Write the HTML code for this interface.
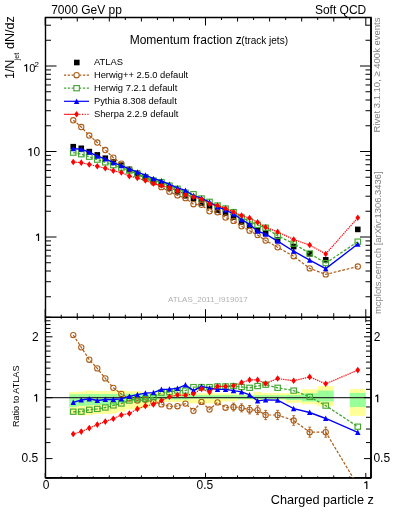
<!DOCTYPE html>
<html><head><meta charset="utf-8"><style>html,body{margin:0;padding:0;background:#fff;width:393px;height:512px;overflow:hidden}svg{display:block;will-change:transform}</style></head>
<body><svg width="393" height="512" viewBox="0 0 393 512">
<rect width="393" height="512" fill="#fff"/>
<rect x="69.25" y="391.90" width="8.02" height="22.50" fill="#ffff99"/>
<rect x="77.26" y="391.50" width="8.02" height="24.00" fill="#ffff99"/>
<rect x="85.28" y="390.50" width="8.02" height="24.50" fill="#ffff99"/>
<rect x="93.29" y="391.00" width="8.01" height="23.00" fill="#ffff99"/>
<rect x="101.31" y="391.00" width="8.02" height="23.00" fill="#ffff99"/>
<rect x="109.32" y="391.00" width="8.02" height="22.50" fill="#ffff99"/>
<rect x="117.34" y="390.30" width="8.02" height="21.30" fill="#ffff99"/>
<rect x="125.35" y="391.00" width="8.02" height="18.30" fill="#ffff99"/>
<rect x="133.37" y="391.00" width="8.02" height="18.30" fill="#ffff99"/>
<rect x="141.38" y="392.20" width="8.02" height="15.80" fill="#ffff99"/>
<rect x="149.40" y="392.50" width="8.02" height="11.50" fill="#ffff99"/>
<rect x="157.41" y="393.00" width="8.01" height="9.00" fill="#ffff99"/>
<rect x="165.43" y="393.00" width="8.02" height="9.00" fill="#ffff99"/>
<rect x="173.44" y="393.00" width="8.02" height="9.00" fill="#ffff99"/>
<rect x="181.46" y="393.00" width="8.01" height="9.00" fill="#ffff99"/>
<rect x="189.47" y="393.20" width="8.01" height="10.20" fill="#ffff99"/>
<rect x="197.49" y="393.20" width="8.01" height="10.20" fill="#ffff99"/>
<rect x="205.50" y="393.20" width="8.02" height="10.20" fill="#ffff99"/>
<rect x="213.52" y="393.20" width="8.01" height="10.20" fill="#ffff99"/>
<rect x="221.53" y="393.50" width="8.01" height="7.90" fill="#ffff99"/>
<rect x="229.55" y="393.50" width="8.01" height="7.90" fill="#ffff99"/>
<rect x="237.56" y="394.50" width="8.01" height="5.30" fill="#ffff99"/>
<rect x="245.57" y="394.50" width="8.02" height="5.30" fill="#ffff99"/>
<rect x="253.59" y="391.90" width="8.01" height="9.50" fill="#ffff99"/>
<rect x="261.61" y="393.00" width="8.02" height="6.80" fill="#ffff99"/>
<rect x="269.62" y="393.00" width="16.03" height="6.80" fill="#ffff99"/>
<rect x="285.65" y="393.00" width="16.03" height="9.90" fill="#ffff99"/>
<rect x="301.68" y="389.20" width="16.03" height="15.10" fill="#ffff99"/>
<rect x="317.71" y="386.00" width="16.03" height="20.20" fill="#ffff99"/>
<rect x="349.77" y="389.00" width="16.03" height="26.90" fill="#ffff99"/>
<rect x="69.25" y="394.30" width="8.02" height="12.80" fill="#99ff99"/>
<rect x="77.26" y="394.30" width="8.02" height="11.70" fill="#99ff99"/>
<rect x="85.28" y="394.00" width="8.02" height="11.50" fill="#99ff99"/>
<rect x="93.29" y="394.00" width="8.01" height="11.00" fill="#99ff99"/>
<rect x="101.31" y="394.00" width="8.02" height="11.00" fill="#99ff99"/>
<rect x="109.32" y="394.00" width="8.02" height="11.00" fill="#99ff99"/>
<rect x="117.34" y="393.70" width="8.02" height="9.30" fill="#99ff99"/>
<rect x="125.35" y="393.70" width="8.02" height="7.30" fill="#99ff99"/>
<rect x="133.37" y="393.70" width="8.02" height="7.30" fill="#99ff99"/>
<rect x="141.38" y="394.20" width="8.02" height="6.80" fill="#99ff99"/>
<rect x="149.40" y="394.50" width="8.02" height="5.50" fill="#99ff99"/>
<rect x="157.41" y="395.00" width="8.01" height="4.50" fill="#99ff99"/>
<rect x="165.43" y="395.00" width="8.02" height="4.50" fill="#99ff99"/>
<rect x="173.44" y="395.00" width="8.02" height="4.50" fill="#99ff99"/>
<rect x="181.46" y="395.00" width="8.01" height="4.50" fill="#99ff99"/>
<rect x="189.47" y="395.10" width="8.01" height="3.40" fill="#99ff99"/>
<rect x="197.49" y="395.10" width="8.01" height="3.40" fill="#99ff99"/>
<rect x="205.50" y="395.10" width="8.02" height="3.40" fill="#99ff99"/>
<rect x="213.52" y="395.10" width="8.01" height="3.40" fill="#99ff99"/>
<rect x="221.53" y="395.10" width="8.01" height="3.40" fill="#99ff99"/>
<rect x="229.55" y="395.10" width="8.01" height="3.40" fill="#99ff99"/>
<rect x="237.56" y="395.30" width="8.01" height="3.80" fill="#99ff99"/>
<rect x="245.57" y="395.30" width="8.02" height="3.80" fill="#99ff99"/>
<rect x="253.59" y="395.30" width="8.01" height="3.80" fill="#99ff99"/>
<rect x="261.61" y="395.30" width="8.02" height="3.80" fill="#99ff99"/>
<rect x="269.62" y="395.30" width="16.03" height="3.80" fill="#99ff99"/>
<rect x="285.65" y="395.00" width="16.03" height="5.00" fill="#99ff99"/>
<rect x="301.68" y="393.30" width="16.03" height="8.20" fill="#99ff99"/>
<rect x="317.71" y="390.60" width="16.03" height="10.90" fill="#99ff99"/>
<rect x="349.77" y="392.90" width="16.03" height="14.10" fill="#99ff99"/>
<line x1="45.5" y1="397.7" x2="371.0" y2="397.7" stroke="#303030" stroke-width="1.3"/>
<path d="M45.5 17.5H371.0V477.9H45.5Z" fill="none" stroke="#000" stroke-width="1.4"/>
<line x1="371.0" y1="17.5" x2="371.0" y2="477.9" stroke="#000" stroke-width="1.7"/>
<line x1="45.5" y1="477.9" x2="371.0" y2="477.9" stroke="#000" stroke-width="1.8"/>
<line x1="45.5" y1="317.2" x2="371.0" y2="317.2" stroke="#000" stroke-width="1.4"/>
<path d="M45.20 17.5v8M45.20 317.2v-8M45.20 317.2v5M45.20 477.9v-5M61.23 17.5v2.5M61.23 317.2v-2.5M61.23 317.2v1.5M61.23 477.9v-1.5M77.26 17.5v4M77.26 317.2v-4M77.26 317.2v2.5M77.26 477.9v-2.5M93.29 17.5v2.5M93.29 317.2v-2.5M93.29 317.2v1.5M93.29 477.9v-1.5M109.32 17.5v4M109.32 317.2v-4M109.32 317.2v2.5M109.32 477.9v-2.5M125.35 17.5v2.5M125.35 317.2v-2.5M125.35 317.2v1.5M125.35 477.9v-1.5M141.38 17.5v4M141.38 317.2v-4M141.38 317.2v2.5M141.38 477.9v-2.5M157.41 17.5v2.5M157.41 317.2v-2.5M157.41 317.2v1.5M157.41 477.9v-1.5M173.44 17.5v4M173.44 317.2v-4M173.44 317.2v2.5M173.44 477.9v-2.5M189.47 17.5v2.5M189.47 317.2v-2.5M189.47 317.2v1.5M189.47 477.9v-1.5M205.50 17.5v8M205.50 317.2v-8M205.50 317.2v5M205.50 477.9v-5M221.53 17.5v2.5M221.53 317.2v-2.5M221.53 317.2v1.5M221.53 477.9v-1.5M237.56 17.5v4M237.56 317.2v-4M237.56 317.2v2.5M237.56 477.9v-2.5M253.59 17.5v2.5M253.59 317.2v-2.5M253.59 317.2v1.5M253.59 477.9v-1.5M269.62 17.5v4M269.62 317.2v-4M269.62 317.2v2.5M269.62 477.9v-2.5M285.65 17.5v2.5M285.65 317.2v-2.5M285.65 317.2v1.5M285.65 477.9v-1.5M301.68 17.5v4M301.68 317.2v-4M301.68 317.2v2.5M301.68 477.9v-2.5M317.71 17.5v2.5M317.71 317.2v-2.5M317.71 317.2v1.5M317.71 477.9v-1.5M333.74 17.5v4M333.74 317.2v-4M333.74 317.2v2.5M333.74 477.9v-2.5M349.77 17.5v2.5M349.77 317.2v-2.5M349.77 317.2v1.5M349.77 477.9v-1.5M365.80 17.5v8M365.80 317.2v-8M365.80 317.2v5M365.80 477.9v-5M45.5 296.76h5.5M371.0 296.76h-5.5M45.5 281.71h5.5M371.0 281.71h-5.5M45.5 271.02h5.5M371.0 271.02h-5.5M45.5 262.74h5.5M371.0 262.74h-5.5M45.5 255.97h5.5M371.0 255.97h-5.5M45.5 250.24h5.5M371.0 250.24h-5.5M45.5 245.29h5.5M371.0 245.29h-5.5M45.5 240.91h5.5M371.0 240.91h-5.5M45.5 237.00h11M371.0 237.00h-11M45.5 211.26h5.5M371.0 211.26h-5.5M45.5 196.21h5.5M371.0 196.21h-5.5M45.5 185.52h5.5M371.0 185.52h-5.5M45.5 177.24h5.5M371.0 177.24h-5.5M45.5 170.47h5.5M371.0 170.47h-5.5M45.5 164.74h5.5M371.0 164.74h-5.5M45.5 159.79h5.5M371.0 159.79h-5.5M45.5 155.41h5.5M371.0 155.41h-5.5M45.5 151.50h11M371.0 151.50h-11M45.5 125.76h5.5M371.0 125.76h-5.5M45.5 110.71h5.5M371.0 110.71h-5.5M45.5 100.02h5.5M371.0 100.02h-5.5M45.5 91.74h5.5M371.0 91.74h-5.5M45.5 84.97h5.5M371.0 84.97h-5.5M45.5 79.24h5.5M371.0 79.24h-5.5M45.5 74.29h5.5M371.0 74.29h-5.5M45.5 69.91h5.5M371.0 69.91h-5.5M45.5 66.00h11M371.0 66.00h-11M45.5 40.26h5.5M371.0 40.26h-5.5M45.5 25.21h5.5M371.0 25.21h-5.5M45.5 478.20h5M371.0 478.20h-5M45.5 458.60h7M371.0 458.60h-7M45.5 442.58h5M371.0 442.58h-5M45.5 429.04h5M371.0 429.04h-5M45.5 417.30h5M371.0 417.30h-5M45.5 406.96h5M371.0 406.96h-5M45.5 397.70h7M371.0 397.70h-7M45.5 389.33h5M371.0 389.33h-5M45.5 381.68h5M371.0 381.68h-5M45.5 374.65h5M371.0 374.65h-5M45.5 368.14h5M371.0 368.14h-5M45.5 362.08h5M371.0 362.08h-5M45.5 356.41h5M371.0 356.41h-5M45.5 351.08h5M371.0 351.08h-5M45.5 346.06h5M371.0 346.06h-5M45.5 341.31h5M371.0 341.31h-5M45.5 336.80h7M371.0 336.80h-7M45.5 332.52h5M371.0 332.52h-5M45.5 328.43h5M371.0 328.43h-5M45.5 324.52h5M371.0 324.52h-5M45.5 320.78h5M371.0 320.78h-5M45.5 317.20h5M371.0 317.20h-5" stroke="#000" stroke-width="1.0" fill="none"/>
<text x="51.2" y="13.8" font-size="12" text-anchor="start" fill="#000" font-family="Liberation Sans, sans-serif" >7000 GeV pp</text>
<text x="314.9" y="14.0" font-size="12" text-anchor="start" fill="#000" font-family="Liberation Sans, sans-serif" >Soft QCD</text>
<text x="129.7" y="43.6" font-size="12" text-anchor="start" fill="#000" font-family="Liberation Sans, sans-serif" >Momentum fraction z</text>
<text x="241.3" y="44.0" font-size="10" text-anchor="start" fill="#000" font-family="Liberation Sans, sans-serif" >(track jets)</text>
<text x="42.8" y="489.2" font-size="12" text-anchor="start" fill="#000" font-family="Liberation Sans, sans-serif" >0</text>
<text x="196.5" y="489.1" font-size="12" text-anchor="start" fill="#000" font-family="Liberation Sans, sans-serif" >0.5</text>
<path d="M366.80 488.90V481.30M367.10 481.40L364.40 483.00" stroke="#000" stroke-width="1.2" fill="none"/>
<text x="270.85" y="504.0" font-size="12.7" text-anchor="start" fill="#000" font-family="Liberation Sans, sans-serif" >Charged particle z</text>
<path d="M26.60 71.80V64.30M26.90 64.40L24.40 66.00" stroke="#000" stroke-width="1.2" fill="none"/>
<text x="29.3" y="71.9" font-size="11" text-anchor="start" fill="#000" font-family="Liberation Sans, sans-serif" >0</text>
<text x="34.6" y="67.0" font-size="8" text-anchor="start" fill="#000" font-family="Liberation Sans, sans-serif" >2</text>
<path d="M30.90 156.20V148.30M31.20 148.40L28.50 150.00" stroke="#000" stroke-width="1.2" fill="none"/>
<text x="33.6" y="156.2" font-size="12" text-anchor="start" fill="#000" font-family="Liberation Sans, sans-serif" >0</text>
<path d="M38.50 241.00V233.70M38.80 233.80L36.10 235.40" stroke="#000" stroke-width="1.2" fill="none"/>
<text x="31.95" y="341.0" font-size="12" text-anchor="start" fill="#000" font-family="Liberation Sans, sans-serif" >2</text>
<path d="M36.60 401.80V394.20M36.90 394.30L34.40 395.90" stroke="#000" stroke-width="1.2" fill="none"/>
<text x="21.6" y="461.8" font-size="12" text-anchor="start" fill="#000" font-family="Liberation Sans, sans-serif" >0.5</text>
<text x="373.8" y="340.9" font-size="12" text-anchor="start" fill="#000" font-family="Liberation Sans, sans-serif" >2</text>
<path d="M377.70 402.30V394.70M378.00 394.80L375.40 396.40" stroke="#000" stroke-width="1.2" fill="none"/>
<text x="373.4" y="461.9" font-size="12" text-anchor="start" fill="#000" font-family="Liberation Sans, sans-serif" >0.5</text>
<text transform="translate(14.4,79.1) rotate(-90)" font-size="12.5" fill="#000" font-family="Liberation Sans, sans-serif">1/N</text>
<text transform="translate(18.8,60.2) rotate(-90)" font-size="7" fill="#000" font-family="Liberation Sans, sans-serif">jet</text>
<text transform="translate(14.4,49.1) rotate(-90)" font-size="12.6" fill="#000" font-family="Liberation Sans, sans-serif">dN/dz</text>
<text transform="translate(18.7,427.05) rotate(-90)" font-size="9.1" fill="#000" font-family="Liberation Sans, sans-serif">Ratio to ATLAS</text>
<text transform="translate(380.1,132.55) rotate(-90)" font-size="9.5" fill="#808080" font-family="Liberation Sans, sans-serif">Rivet 3.1.10, ≥ 400k events</text>
<text transform="translate(380.9,314.05) rotate(-90)" font-size="9.45" fill="#808080" font-family="Liberation Sans, sans-serif">mcplots.cern.ch [arXiv:1306.3436]</text>
<text x="168.0" y="302.3" font-size="8" text-anchor="start" fill="#b0b0b0" font-family="Liberation Sans, sans-serif" >ATLAS_2011_I919017</text>
<defs><clipPath id="cm"><rect x="45.5" y="17.5" width="325.5" height="299.7"/></clipPath><clipPath id="cr"><rect x="45.5" y="317.2" width="325.5" height="160.7"/></clipPath></defs>
<g clip-path="url(#cm)">
<rect x="70.45" y="143.90" width="5.6" height="5.6" fill="#000"/>
<rect x="78.47" y="145.50" width="5.6" height="5.6" fill="#000"/>
<rect x="86.48" y="148.80" width="5.6" height="5.6" fill="#000"/>
<rect x="94.50" y="152.10" width="5.6" height="5.6" fill="#000"/>
<rect x="102.51" y="155.40" width="5.6" height="5.6" fill="#000"/>
<rect x="110.53" y="159.10" width="5.6" height="5.6" fill="#000"/>
<rect x="118.54" y="162.40" width="5.6" height="5.6" fill="#000"/>
<rect x="126.56" y="166.60" width="5.6" height="5.6" fill="#000"/>
<rect x="134.57" y="170.50" width="5.6" height="5.6" fill="#000"/>
<rect x="142.59" y="174.20" width="5.6" height="5.6" fill="#000"/>
<rect x="150.60" y="177.90" width="5.6" height="5.6" fill="#000"/>
<rect x="158.62" y="181.50" width="5.6" height="5.6" fill="#000"/>
<rect x="166.63" y="185.20" width="5.6" height="5.6" fill="#000"/>
<rect x="174.65" y="189.00" width="5.6" height="5.6" fill="#000"/>
<rect x="182.66" y="192.90" width="5.6" height="5.6" fill="#000"/>
<rect x="190.68" y="195.90" width="5.6" height="5.6" fill="#000"/>
<rect x="198.69" y="200.20" width="5.6" height="5.6" fill="#000"/>
<rect x="206.71" y="203.50" width="5.6" height="5.6" fill="#000"/>
<rect x="214.72" y="207.50" width="5.6" height="5.6" fill="#000"/>
<rect x="222.74" y="210.50" width="5.6" height="5.6" fill="#000"/>
<rect x="230.75" y="214.20" width="5.6" height="5.6" fill="#000"/>
<rect x="238.77" y="219.20" width="5.6" height="5.6" fill="#000"/>
<rect x="246.78" y="222.80" width="5.6" height="5.6" fill="#000"/>
<rect x="254.80" y="227.00" width="5.6" height="5.6" fill="#000"/>
<rect x="262.81" y="230.40" width="5.6" height="5.6" fill="#000"/>
<rect x="274.83" y="237.20" width="5.6" height="5.6" fill="#000"/>
<rect x="290.87" y="243.80" width="5.6" height="5.6" fill="#000"/>
<rect x="306.89" y="251.00" width="5.6" height="5.6" fill="#000"/>
<rect x="322.93" y="257.00" width="5.6" height="5.6" fill="#000"/>
<rect x="354.99" y="226.60" width="5.6" height="5.6" fill="#000"/>
<path d="M73.25 120.25L81.27 127.00L89.28 135.54L97.30 142.52L105.31 150.04L113.33 157.72L121.34 163.59L129.36 169.74L137.37 174.48L145.39 177.89L153.40 182.52L161.42 187.13L169.43 191.63L177.45 195.39L185.46 198.19L193.48 204.24L201.49 204.77L209.51 211.29L217.52 212.29L225.54 217.53L233.55 220.93L241.57 226.31L249.58 230.67L257.60 235.08L265.61 240.51L277.63 247.31L293.67 256.24L309.69 268.38L325.73 274.38L357.79 266.50" fill="none" stroke="#ad5c16" stroke-width="1.2" stroke-dasharray="2.8,1.6"/>
<circle cx="73.25" cy="120.25" r="2.65" fill="none" stroke="#ad5c16" stroke-width="1.05"/>
<circle cx="81.27" cy="127.00" r="2.65" fill="none" stroke="#ad5c16" stroke-width="1.05"/>
<circle cx="89.28" cy="135.54" r="2.65" fill="none" stroke="#ad5c16" stroke-width="1.05"/>
<circle cx="97.30" cy="142.52" r="2.65" fill="none" stroke="#ad5c16" stroke-width="1.05"/>
<circle cx="105.31" cy="150.04" r="2.65" fill="none" stroke="#ad5c16" stroke-width="1.05"/>
<circle cx="113.33" cy="157.72" r="2.65" fill="none" stroke="#ad5c16" stroke-width="1.05"/>
<circle cx="121.34" cy="163.59" r="2.65" fill="none" stroke="#ad5c16" stroke-width="1.05"/>
<circle cx="129.36" cy="169.74" r="2.65" fill="none" stroke="#ad5c16" stroke-width="1.05"/>
<circle cx="137.37" cy="174.48" r="2.65" fill="none" stroke="#ad5c16" stroke-width="1.05"/>
<circle cx="145.39" cy="177.89" r="2.65" fill="none" stroke="#ad5c16" stroke-width="1.05"/>
<circle cx="153.40" cy="182.52" r="2.65" fill="none" stroke="#ad5c16" stroke-width="1.05"/>
<circle cx="161.42" cy="187.13" r="2.65" fill="none" stroke="#ad5c16" stroke-width="1.05"/>
<circle cx="169.43" cy="191.63" r="2.65" fill="none" stroke="#ad5c16" stroke-width="1.05"/>
<circle cx="177.45" cy="195.39" r="2.65" fill="none" stroke="#ad5c16" stroke-width="1.05"/>
<circle cx="185.46" cy="198.19" r="2.65" fill="none" stroke="#ad5c16" stroke-width="1.05"/>
<circle cx="193.48" cy="204.24" r="2.65" fill="none" stroke="#ad5c16" stroke-width="1.05"/>
<circle cx="201.49" cy="204.77" r="2.65" fill="none" stroke="#ad5c16" stroke-width="1.05"/>
<circle cx="209.51" cy="211.29" r="2.65" fill="none" stroke="#ad5c16" stroke-width="1.05"/>
<circle cx="217.52" cy="212.29" r="2.65" fill="none" stroke="#ad5c16" stroke-width="1.05"/>
<circle cx="225.54" cy="217.53" r="2.65" fill="none" stroke="#ad5c16" stroke-width="1.05"/>
<circle cx="233.55" cy="220.93" r="2.65" fill="none" stroke="#ad5c16" stroke-width="1.05"/>
<circle cx="241.57" cy="226.31" r="2.65" fill="none" stroke="#ad5c16" stroke-width="1.05"/>
<circle cx="249.58" cy="230.67" r="2.65" fill="none" stroke="#ad5c16" stroke-width="1.05"/>
<circle cx="257.60" cy="235.08" r="2.65" fill="none" stroke="#ad5c16" stroke-width="1.05"/>
<circle cx="265.61" cy="240.51" r="2.65" fill="none" stroke="#ad5c16" stroke-width="1.05"/>
<circle cx="277.63" cy="247.31" r="2.65" fill="none" stroke="#ad5c16" stroke-width="1.05"/>
<circle cx="293.67" cy="256.24" r="2.65" fill="none" stroke="#ad5c16" stroke-width="1.05"/>
<circle cx="309.69" cy="268.38" r="2.65" fill="none" stroke="#ad5c16" stroke-width="1.05"/>
<circle cx="325.73" cy="274.38" r="2.65" fill="none" stroke="#ad5c16" stroke-width="1.05"/>
<circle cx="357.79" cy="266.50" r="2.65" fill="none" stroke="#ad5c16" stroke-width="1.05"/>
<path d="M73.25 152.62L81.27 154.22L89.28 156.71L97.30 159.63L105.31 162.34L113.33 165.15L121.34 167.65L129.36 170.58L137.37 173.98L145.39 177.55L153.40 180.49L161.42 182.14L169.43 185.63L177.45 188.80L185.46 192.70L193.48 194.22L201.49 198.52L209.51 201.82L217.52 205.52L225.54 208.52L233.55 212.10L241.57 217.48L249.58 221.42L257.60 224.86L265.61 227.71L277.63 235.82L293.67 243.60L309.69 253.46L325.73 263.14L357.79 241.66" fill="none" stroke="#44a832" stroke-width="1.35" stroke-dasharray="2.8,1.6"/>
<rect x="70.50" y="150.02" width="5.5" height="5.2" fill="none" stroke="#44a832" stroke-width="1.15"/>
<rect x="78.52" y="151.62" width="5.5" height="5.2" fill="none" stroke="#44a832" stroke-width="1.15"/>
<rect x="86.53" y="154.11" width="5.5" height="5.2" fill="none" stroke="#44a832" stroke-width="1.15"/>
<rect x="94.55" y="157.03" width="5.5" height="5.2" fill="none" stroke="#44a832" stroke-width="1.15"/>
<rect x="102.56" y="159.74" width="5.5" height="5.2" fill="none" stroke="#44a832" stroke-width="1.15"/>
<rect x="110.58" y="162.55" width="5.5" height="5.2" fill="none" stroke="#44a832" stroke-width="1.15"/>
<rect x="118.59" y="165.05" width="5.5" height="5.2" fill="none" stroke="#44a832" stroke-width="1.15"/>
<rect x="126.61" y="167.98" width="5.5" height="5.2" fill="none" stroke="#44a832" stroke-width="1.15"/>
<rect x="134.62" y="171.38" width="5.5" height="5.2" fill="none" stroke="#44a832" stroke-width="1.15"/>
<rect x="142.64" y="174.95" width="5.5" height="5.2" fill="none" stroke="#44a832" stroke-width="1.15"/>
<rect x="150.65" y="177.89" width="5.5" height="5.2" fill="none" stroke="#44a832" stroke-width="1.15"/>
<rect x="158.67" y="179.54" width="5.5" height="5.2" fill="none" stroke="#44a832" stroke-width="1.15"/>
<rect x="166.68" y="183.03" width="5.5" height="5.2" fill="none" stroke="#44a832" stroke-width="1.15"/>
<rect x="174.70" y="186.20" width="5.5" height="5.2" fill="none" stroke="#44a832" stroke-width="1.15"/>
<rect x="182.71" y="190.10" width="5.5" height="5.2" fill="none" stroke="#44a832" stroke-width="1.15"/>
<rect x="190.73" y="191.62" width="5.5" height="5.2" fill="none" stroke="#44a832" stroke-width="1.15"/>
<rect x="198.74" y="195.92" width="5.5" height="5.2" fill="none" stroke="#44a832" stroke-width="1.15"/>
<rect x="206.76" y="199.22" width="5.5" height="5.2" fill="none" stroke="#44a832" stroke-width="1.15"/>
<rect x="214.77" y="202.92" width="5.5" height="5.2" fill="none" stroke="#44a832" stroke-width="1.15"/>
<rect x="222.79" y="205.92" width="5.5" height="5.2" fill="none" stroke="#44a832" stroke-width="1.15"/>
<rect x="230.80" y="209.50" width="5.5" height="5.2" fill="none" stroke="#44a832" stroke-width="1.15"/>
<rect x="238.82" y="214.88" width="5.5" height="5.2" fill="none" stroke="#44a832" stroke-width="1.15"/>
<rect x="246.83" y="218.82" width="5.5" height="5.2" fill="none" stroke="#44a832" stroke-width="1.15"/>
<rect x="254.85" y="222.26" width="5.5" height="5.2" fill="none" stroke="#44a832" stroke-width="1.15"/>
<rect x="262.86" y="225.11" width="5.5" height="5.2" fill="none" stroke="#44a832" stroke-width="1.15"/>
<rect x="274.88" y="233.22" width="5.5" height="5.2" fill="none" stroke="#44a832" stroke-width="1.15"/>
<rect x="290.92" y="241.00" width="5.5" height="5.2" fill="none" stroke="#44a832" stroke-width="1.15"/>
<rect x="306.94" y="250.86" width="5.5" height="5.2" fill="none" stroke="#44a832" stroke-width="1.15"/>
<rect x="322.98" y="260.54" width="5.5" height="5.2" fill="none" stroke="#44a832" stroke-width="1.15"/>
<rect x="355.04" y="239.06" width="5.5" height="5.2" fill="none" stroke="#44a832" stroke-width="1.15"/>
<path d="M73.25 148.64L81.27 149.27L89.28 152.06L97.30 156.08L105.31 158.96L113.33 162.66L121.34 165.71L129.36 168.81L137.37 172.03L145.39 175.10L153.40 178.54L161.42 180.83L169.43 184.37L177.45 187.87L185.46 190.29L193.48 195.70L201.49 198.22L209.51 202.24L217.52 206.79L225.54 209.79L233.55 214.00L241.57 219.55L249.58 224.42L257.60 231.11L265.61 234.13L277.63 241.06L293.67 251.21L309.69 260.05L325.73 268.59L357.79 244.06" fill="none" stroke="#0000ff" stroke-width="1.35"/>
<path d="M70.55 151.24L75.95 151.24L73.25 145.74Z" fill="#0000ff"/>
<path d="M78.57 151.87L83.97 151.87L81.27 146.37Z" fill="#0000ff"/>
<path d="M86.58 154.66L91.98 154.66L89.28 149.16Z" fill="#0000ff"/>
<path d="M94.60 158.68L100.00 158.68L97.30 153.18Z" fill="#0000ff"/>
<path d="M102.61 161.56L108.01 161.56L105.31 156.06Z" fill="#0000ff"/>
<path d="M110.63 165.26L116.03 165.26L113.33 159.76Z" fill="#0000ff"/>
<path d="M118.64 168.31L124.04 168.31L121.34 162.81Z" fill="#0000ff"/>
<path d="M126.66 171.41L132.06 171.41L129.36 165.91Z" fill="#0000ff"/>
<path d="M134.67 174.63L140.07 174.63L137.37 169.13Z" fill="#0000ff"/>
<path d="M142.69 177.70L148.09 177.70L145.39 172.20Z" fill="#0000ff"/>
<path d="M150.70 181.14L156.10 181.14L153.40 175.64Z" fill="#0000ff"/>
<path d="M158.72 183.43L164.12 183.43L161.42 177.93Z" fill="#0000ff"/>
<path d="M166.73 186.97L172.13 186.97L169.43 181.47Z" fill="#0000ff"/>
<path d="M174.75 190.47L180.15 190.47L177.45 184.97Z" fill="#0000ff"/>
<path d="M182.76 192.89L188.16 192.89L185.46 187.39Z" fill="#0000ff"/>
<path d="M190.78 198.30L196.18 198.30L193.48 192.80Z" fill="#0000ff"/>
<path d="M198.79 200.82L204.19 200.82L201.49 195.32Z" fill="#0000ff"/>
<path d="M206.81 204.84L212.21 204.84L209.51 199.34Z" fill="#0000ff"/>
<path d="M214.82 209.39L220.22 209.39L217.52 203.89Z" fill="#0000ff"/>
<path d="M222.84 212.39L228.24 212.39L225.54 206.89Z" fill="#0000ff"/>
<path d="M230.85 216.60L236.25 216.60L233.55 211.10Z" fill="#0000ff"/>
<path d="M238.87 222.15L244.27 222.15L241.57 216.65Z" fill="#0000ff"/>
<path d="M246.88 227.02L252.28 227.02L249.58 221.52Z" fill="#0000ff"/>
<path d="M254.90 233.71L260.30 233.71L257.60 228.21Z" fill="#0000ff"/>
<path d="M262.91 236.73L268.31 236.73L265.61 231.23Z" fill="#0000ff"/>
<path d="M274.94 243.66L280.33 243.66L277.63 238.16Z" fill="#0000ff"/>
<path d="M290.97 253.81L296.37 253.81L293.67 248.31Z" fill="#0000ff"/>
<path d="M307.00 262.65L312.39 262.65L309.69 257.15Z" fill="#0000ff"/>
<path d="M323.03 271.19L328.43 271.19L325.73 265.69Z" fill="#0000ff"/>
<path d="M355.09 246.66L360.49 246.66L357.79 241.16Z" fill="#0000ff"/>
<path d="M73.25 162.04L81.27 162.63L89.28 164.45L97.30 166.27L105.31 168.30L113.33 170.77L121.34 172.51L129.36 176.08L137.37 178.03L145.39 180.47L153.40 183.53L161.42 185.48L169.43 187.58L177.45 190.66L185.46 194.69L193.48 197.05L201.49 199.28L209.51 203.93L217.52 205.52L225.54 208.52L233.55 211.93L241.57 215.62L249.58 218.08L257.60 222.28L265.61 227.20L277.63 231.89L293.67 239.46L309.69 245.01L325.73 253.93L357.79 217.74" fill="none" stroke="#ff0000" stroke-width="1.2" stroke-dasharray="1.3,0.9"/>
<path d="M73.25 158.74L75.65 162.04L73.25 165.34L70.85 162.04Z" fill="#ff0000"/>
<path d="M81.27 159.33L83.67 162.63L81.27 165.93L78.87 162.63Z" fill="#ff0000"/>
<path d="M89.28 161.15L91.68 164.45L89.28 167.75L86.88 164.45Z" fill="#ff0000"/>
<path d="M97.30 162.97L99.70 166.27L97.30 169.57L94.90 166.27Z" fill="#ff0000"/>
<path d="M105.31 165.00L107.71 168.30L105.31 171.60L102.91 168.30Z" fill="#ff0000"/>
<path d="M113.33 167.47L115.73 170.77L113.33 174.07L110.93 170.77Z" fill="#ff0000"/>
<path d="M121.34 169.21L123.74 172.51L121.34 175.81L118.94 172.51Z" fill="#ff0000"/>
<path d="M129.36 172.78L131.76 176.08L129.36 179.38L126.96 176.08Z" fill="#ff0000"/>
<path d="M137.37 174.73L139.77 178.03L137.37 181.33L134.97 178.03Z" fill="#ff0000"/>
<path d="M145.39 177.17L147.79 180.47L145.39 183.77L142.99 180.47Z" fill="#ff0000"/>
<path d="M153.40 180.23L155.80 183.53L153.40 186.83L151.00 183.53Z" fill="#ff0000"/>
<path d="M161.42 182.18L163.82 185.48L161.42 188.78L159.02 185.48Z" fill="#ff0000"/>
<path d="M169.43 184.28L171.83 187.58L169.43 190.88L167.03 187.58Z" fill="#ff0000"/>
<path d="M177.45 187.36L179.85 190.66L177.45 193.96L175.05 190.66Z" fill="#ff0000"/>
<path d="M185.46 191.39L187.86 194.69L185.46 197.99L183.06 194.69Z" fill="#ff0000"/>
<path d="M193.48 193.75L195.88 197.05L193.48 200.35L191.08 197.05Z" fill="#ff0000"/>
<path d="M201.49 195.98L203.89 199.28L201.49 202.58L199.09 199.28Z" fill="#ff0000"/>
<path d="M209.51 200.63L211.91 203.93L209.51 207.23L207.11 203.93Z" fill="#ff0000"/>
<path d="M217.52 202.22L219.92 205.52L217.52 208.82L215.12 205.52Z" fill="#ff0000"/>
<path d="M225.54 205.22L227.94 208.52L225.54 211.82L223.14 208.52Z" fill="#ff0000"/>
<path d="M233.55 208.63L235.95 211.93L233.55 215.23L231.15 211.93Z" fill="#ff0000"/>
<path d="M241.57 212.32L243.97 215.62L241.57 218.92L239.17 215.62Z" fill="#ff0000"/>
<path d="M249.58 214.78L251.98 218.08L249.58 221.38L247.18 218.08Z" fill="#ff0000"/>
<path d="M257.60 218.98L260.00 222.28L257.60 225.58L255.20 222.28Z" fill="#ff0000"/>
<path d="M265.61 223.90L268.01 227.20L265.61 230.50L263.21 227.20Z" fill="#ff0000"/>
<path d="M277.63 228.59L280.03 231.89L277.63 235.19L275.24 231.89Z" fill="#ff0000"/>
<path d="M293.67 236.16L296.06 239.46L293.67 242.76L291.27 239.46Z" fill="#ff0000"/>
<path d="M309.69 241.71L312.09 245.01L309.69 248.31L307.30 245.01Z" fill="#ff0000"/>
<path d="M325.73 250.63L328.12 253.93L325.73 257.23L323.33 253.93Z" fill="#ff0000"/>
<path d="M357.79 214.44L360.19 217.74L357.79 221.04L355.39 217.74Z" fill="#ff0000"/>
</g>
<g clip-path="url(#cr)">
<path d="M73.25 335.10L81.27 347.30L89.28 359.70L97.30 368.40L105.31 378.40L113.33 387.80L121.34 393.90L129.36 398.50L137.37 400.50L145.39 399.80L153.40 402.00L161.42 404.40L169.43 406.30L177.45 406.20L185.46 403.60L193.48 410.80L201.49 401.90L209.51 409.50L217.52 402.40L225.54 407.70L233.55 407.00L241.57 407.90L249.58 409.70L257.60 410.20L265.61 415.00L277.63 415.00L293.67 420.50L309.69 432.20L325.73 432.20L357.79 485.50" fill="none" stroke="#ad5c16" stroke-width="1.2" stroke-dasharray="2.8,1.6"/>
<circle cx="73.25" cy="335.10" r="2.65" fill="none" stroke="#ad5c16" stroke-width="1.05"/>
<circle cx="81.27" cy="347.30" r="2.65" fill="none" stroke="#ad5c16" stroke-width="1.05"/>
<circle cx="89.28" cy="359.70" r="2.65" fill="none" stroke="#ad5c16" stroke-width="1.05"/>
<circle cx="97.30" cy="368.40" r="2.65" fill="none" stroke="#ad5c16" stroke-width="1.05"/>
<circle cx="105.31" cy="378.40" r="2.65" fill="none" stroke="#ad5c16" stroke-width="1.05"/>
<circle cx="113.33" cy="387.80" r="2.65" fill="none" stroke="#ad5c16" stroke-width="1.05"/>
<circle cx="121.34" cy="393.90" r="2.65" fill="none" stroke="#ad5c16" stroke-width="1.05"/>
<circle cx="129.36" cy="398.50" r="2.65" fill="none" stroke="#ad5c16" stroke-width="1.05"/>
<circle cx="137.37" cy="400.50" r="2.65" fill="none" stroke="#ad5c16" stroke-width="1.05"/>
<circle cx="145.39" cy="399.80" r="2.65" fill="none" stroke="#ad5c16" stroke-width="1.05"/>
<circle cx="153.40" cy="402.00" r="2.65" fill="none" stroke="#ad5c16" stroke-width="1.05"/>
<circle cx="161.42" cy="404.40" r="2.65" fill="none" stroke="#ad5c16" stroke-width="1.05"/>
<circle cx="169.43" cy="406.30" r="2.65" fill="none" stroke="#ad5c16" stroke-width="1.05"/>
<circle cx="177.45" cy="406.20" r="2.65" fill="none" stroke="#ad5c16" stroke-width="1.05"/>
<circle cx="185.46" cy="403.60" r="2.65" fill="none" stroke="#ad5c16" stroke-width="1.05"/>
<circle cx="193.48" cy="410.80" r="2.65" fill="none" stroke="#ad5c16" stroke-width="1.05"/>
<circle cx="201.49" cy="401.90" r="2.65" fill="none" stroke="#ad5c16" stroke-width="1.05"/>
<circle cx="209.51" cy="409.50" r="2.65" fill="none" stroke="#ad5c16" stroke-width="1.05"/>
<circle cx="217.52" cy="402.40" r="2.65" fill="none" stroke="#ad5c16" stroke-width="1.05"/>
<circle cx="225.54" cy="407.70" r="2.65" fill="none" stroke="#ad5c16" stroke-width="1.05"/>
<path d="M233.55 403.10V410.90M232.15 403.10h2.8M232.15 410.90h2.8" stroke="#ad5c16" stroke-width="0.9" fill="none"/>
<circle cx="233.55" cy="407.00" r="2.65" fill="none" stroke="#ad5c16" stroke-width="1.05"/>
<path d="M241.57 403.90V411.90M240.17 403.90h2.8M240.17 411.90h2.8" stroke="#ad5c16" stroke-width="0.9" fill="none"/>
<circle cx="241.57" cy="407.90" r="2.65" fill="none" stroke="#ad5c16" stroke-width="1.05"/>
<path d="M249.58 405.50V413.90M248.18 405.50h2.8M248.18 413.90h2.8" stroke="#ad5c16" stroke-width="0.9" fill="none"/>
<circle cx="249.58" cy="409.70" r="2.65" fill="none" stroke="#ad5c16" stroke-width="1.05"/>
<path d="M257.60 405.80V414.60M256.20 405.80h2.8M256.20 414.60h2.8" stroke="#ad5c16" stroke-width="0.9" fill="none"/>
<circle cx="257.60" cy="410.20" r="2.65" fill="none" stroke="#ad5c16" stroke-width="1.05"/>
<path d="M265.61 410.40V419.60M264.21 410.40h2.8M264.21 419.60h2.8" stroke="#ad5c16" stroke-width="0.9" fill="none"/>
<circle cx="265.61" cy="415.00" r="2.65" fill="none" stroke="#ad5c16" stroke-width="1.05"/>
<path d="M277.63 410.40V419.60M276.24 410.40h2.8M276.24 419.60h2.8" stroke="#ad5c16" stroke-width="0.9" fill="none"/>
<circle cx="277.63" cy="415.00" r="2.65" fill="none" stroke="#ad5c16" stroke-width="1.05"/>
<path d="M293.67 415.70V425.30M292.27 415.70h2.8M292.27 425.30h2.8" stroke="#ad5c16" stroke-width="0.9" fill="none"/>
<circle cx="293.67" cy="420.50" r="2.65" fill="none" stroke="#ad5c16" stroke-width="1.05"/>
<path d="M309.69 427.20V437.20M308.30 427.20h2.8M308.30 437.20h2.8" stroke="#ad5c16" stroke-width="0.9" fill="none"/>
<circle cx="309.69" cy="432.20" r="2.65" fill="none" stroke="#ad5c16" stroke-width="1.05"/>
<path d="M325.73 427.20V437.20M324.33 427.20h2.8M324.33 437.20h2.8" stroke="#ad5c16" stroke-width="0.9" fill="none"/>
<circle cx="325.73" cy="432.20" r="2.65" fill="none" stroke="#ad5c16" stroke-width="1.05"/>
<circle cx="357.79" cy="485.50" r="2.65" fill="none" stroke="#ad5c16" stroke-width="1.05"/>
<path d="M73.25 411.70L81.27 411.70L89.28 409.80L97.30 408.90L105.31 407.50L113.33 405.40L121.34 403.50L129.36 400.50L137.37 399.30L145.39 399.00L153.40 397.20L161.42 392.60L169.43 392.10L177.45 390.60L185.46 390.60L193.48 387.10L201.49 387.10L209.51 387.10L217.52 386.40L225.54 386.40L233.55 386.10L241.57 387.00L249.58 387.80L257.60 386.00L265.61 384.70L277.63 387.80L293.67 390.60L309.69 396.90L325.73 405.60L357.79 426.70" fill="none" stroke="#44a832" stroke-width="1.35" stroke-dasharray="2.8,1.6"/>
<rect x="70.50" y="409.10" width="5.5" height="5.2" fill="none" stroke="#44a832" stroke-width="1.15"/>
<rect x="78.52" y="409.10" width="5.5" height="5.2" fill="none" stroke="#44a832" stroke-width="1.15"/>
<rect x="86.53" y="407.20" width="5.5" height="5.2" fill="none" stroke="#44a832" stroke-width="1.15"/>
<rect x="94.55" y="406.30" width="5.5" height="5.2" fill="none" stroke="#44a832" stroke-width="1.15"/>
<rect x="102.56" y="404.90" width="5.5" height="5.2" fill="none" stroke="#44a832" stroke-width="1.15"/>
<rect x="110.58" y="402.80" width="5.5" height="5.2" fill="none" stroke="#44a832" stroke-width="1.15"/>
<rect x="118.59" y="400.90" width="5.5" height="5.2" fill="none" stroke="#44a832" stroke-width="1.15"/>
<rect x="126.61" y="397.90" width="5.5" height="5.2" fill="none" stroke="#44a832" stroke-width="1.15"/>
<rect x="134.62" y="396.70" width="5.5" height="5.2" fill="none" stroke="#44a832" stroke-width="1.15"/>
<rect x="142.64" y="396.40" width="5.5" height="5.2" fill="none" stroke="#44a832" stroke-width="1.15"/>
<rect x="150.65" y="394.60" width="5.5" height="5.2" fill="none" stroke="#44a832" stroke-width="1.15"/>
<rect x="158.67" y="390.00" width="5.5" height="5.2" fill="none" stroke="#44a832" stroke-width="1.15"/>
<rect x="166.68" y="389.50" width="5.5" height="5.2" fill="none" stroke="#44a832" stroke-width="1.15"/>
<rect x="174.70" y="388.00" width="5.5" height="5.2" fill="none" stroke="#44a832" stroke-width="1.15"/>
<rect x="182.71" y="388.00" width="5.5" height="5.2" fill="none" stroke="#44a832" stroke-width="1.15"/>
<rect x="190.73" y="384.50" width="5.5" height="5.2" fill="none" stroke="#44a832" stroke-width="1.15"/>
<rect x="198.74" y="384.50" width="5.5" height="5.2" fill="none" stroke="#44a832" stroke-width="1.15"/>
<rect x="206.76" y="384.50" width="5.5" height="5.2" fill="none" stroke="#44a832" stroke-width="1.15"/>
<rect x="214.77" y="383.80" width="5.5" height="5.2" fill="none" stroke="#44a832" stroke-width="1.15"/>
<rect x="222.79" y="383.80" width="5.5" height="5.2" fill="none" stroke="#44a832" stroke-width="1.15"/>
<rect x="230.80" y="383.50" width="5.5" height="5.2" fill="none" stroke="#44a832" stroke-width="1.15"/>
<rect x="238.82" y="384.40" width="5.5" height="5.2" fill="none" stroke="#44a832" stroke-width="1.15"/>
<rect x="246.83" y="385.20" width="5.5" height="5.2" fill="none" stroke="#44a832" stroke-width="1.15"/>
<rect x="254.85" y="383.40" width="5.5" height="5.2" fill="none" stroke="#44a832" stroke-width="1.15"/>
<rect x="262.86" y="382.10" width="5.5" height="5.2" fill="none" stroke="#44a832" stroke-width="1.15"/>
<rect x="274.88" y="385.20" width="5.5" height="5.2" fill="none" stroke="#44a832" stroke-width="1.15"/>
<rect x="290.92" y="388.00" width="5.5" height="5.2" fill="none" stroke="#44a832" stroke-width="1.15"/>
<rect x="306.94" y="394.30" width="5.5" height="5.2" fill="none" stroke="#44a832" stroke-width="1.15"/>
<rect x="322.98" y="403.00" width="5.5" height="5.2" fill="none" stroke="#44a832" stroke-width="1.15"/>
<rect x="355.04" y="424.10" width="5.5" height="5.2" fill="none" stroke="#44a832" stroke-width="1.15"/>
<path d="M73.25 402.30L81.27 400.00L89.28 398.80L97.30 400.50L105.31 399.50L113.33 399.50L121.34 398.90L129.36 396.30L137.37 394.70L145.39 393.20L153.40 392.60L161.42 389.50L169.43 389.10L177.45 388.40L185.46 384.90L193.48 390.60L201.49 386.40L209.51 388.10L217.52 389.40L225.54 389.40L233.55 390.60L241.57 391.90L249.58 394.90L257.60 400.80L265.61 399.90L277.63 400.20L293.67 408.60L309.69 412.50L325.73 418.50L357.79 432.40" fill="none" stroke="#0000ff" stroke-width="1.35"/>
<path d="M70.55 404.90L75.95 404.90L73.25 399.40Z" fill="#0000ff"/>
<path d="M78.57 402.60L83.97 402.60L81.27 397.10Z" fill="#0000ff"/>
<path d="M86.58 401.40L91.98 401.40L89.28 395.90Z" fill="#0000ff"/>
<path d="M94.60 403.10L100.00 403.10L97.30 397.60Z" fill="#0000ff"/>
<path d="M102.61 402.10L108.01 402.10L105.31 396.60Z" fill="#0000ff"/>
<path d="M110.63 402.10L116.03 402.10L113.33 396.60Z" fill="#0000ff"/>
<path d="M118.64 401.50L124.04 401.50L121.34 396.00Z" fill="#0000ff"/>
<path d="M126.66 398.90L132.06 398.90L129.36 393.40Z" fill="#0000ff"/>
<path d="M134.67 397.30L140.07 397.30L137.37 391.80Z" fill="#0000ff"/>
<path d="M142.69 395.80L148.09 395.80L145.39 390.30Z" fill="#0000ff"/>
<path d="M150.70 395.20L156.10 395.20L153.40 389.70Z" fill="#0000ff"/>
<path d="M158.72 392.10L164.12 392.10L161.42 386.60Z" fill="#0000ff"/>
<path d="M166.73 391.70L172.13 391.70L169.43 386.20Z" fill="#0000ff"/>
<path d="M174.75 391.00L180.15 391.00L177.45 385.50Z" fill="#0000ff"/>
<path d="M182.76 387.50L188.16 387.50L185.46 382.00Z" fill="#0000ff"/>
<path d="M190.78 393.20L196.18 393.20L193.48 387.70Z" fill="#0000ff"/>
<path d="M198.79 389.00L204.19 389.00L201.49 383.50Z" fill="#0000ff"/>
<path d="M206.81 390.70L212.21 390.70L209.51 385.20Z" fill="#0000ff"/>
<path d="M214.82 392.00L220.22 392.00L217.52 386.50Z" fill="#0000ff"/>
<path d="M222.84 392.00L228.24 392.00L225.54 386.50Z" fill="#0000ff"/>
<path d="M230.85 393.20L236.25 393.20L233.55 387.70Z" fill="#0000ff"/>
<path d="M238.87 394.50L244.27 394.50L241.57 389.00Z" fill="#0000ff"/>
<path d="M246.88 397.50L252.28 397.50L249.58 392.00Z" fill="#0000ff"/>
<path d="M254.90 403.40L260.30 403.40L257.60 397.90Z" fill="#0000ff"/>
<path d="M262.91 402.50L268.31 402.50L265.61 397.00Z" fill="#0000ff"/>
<path d="M274.94 402.80L280.33 402.80L277.63 397.30Z" fill="#0000ff"/>
<path d="M290.97 411.20L296.37 411.20L293.67 405.70Z" fill="#0000ff"/>
<path d="M307.00 415.10L312.39 415.10L309.69 409.60Z" fill="#0000ff"/>
<path d="M323.03 421.10L328.43 421.10L325.73 415.60Z" fill="#0000ff"/>
<path d="M355.09 435.00L360.49 435.00L357.79 429.50Z" fill="#0000ff"/>
<path d="M73.25 434.00L81.27 431.60L89.28 428.10L97.30 424.60L105.31 421.60L113.33 418.70L121.34 415.00L129.36 413.50L137.37 408.90L145.39 405.90L153.40 404.40L161.42 400.50L169.43 396.70L177.45 395.00L185.46 395.30L193.48 393.80L201.49 388.90L209.51 392.10L217.52 386.40L225.54 386.40L233.55 385.70L241.57 382.60L249.58 379.90L257.60 379.90L265.61 383.50L277.63 378.50L293.67 380.80L309.69 376.90L325.73 383.80L357.79 370.10" fill="none" stroke="#ff0000" stroke-width="1.2" stroke-dasharray="1.3,0.9"/>
<path d="M73.25 430.70L75.65 434.00L73.25 437.30L70.85 434.00Z" fill="#ff0000"/>
<path d="M81.27 428.30L83.67 431.60L81.27 434.90L78.87 431.60Z" fill="#ff0000"/>
<path d="M89.28 424.80L91.68 428.10L89.28 431.40L86.88 428.10Z" fill="#ff0000"/>
<path d="M97.30 421.30L99.70 424.60L97.30 427.90L94.90 424.60Z" fill="#ff0000"/>
<path d="M105.31 418.30L107.71 421.60L105.31 424.90L102.91 421.60Z" fill="#ff0000"/>
<path d="M113.33 415.40L115.73 418.70L113.33 422.00L110.93 418.70Z" fill="#ff0000"/>
<path d="M121.34 411.70L123.74 415.00L121.34 418.30L118.94 415.00Z" fill="#ff0000"/>
<path d="M129.36 410.20L131.76 413.50L129.36 416.80L126.96 413.50Z" fill="#ff0000"/>
<path d="M137.37 405.60L139.77 408.90L137.37 412.20L134.97 408.90Z" fill="#ff0000"/>
<path d="M145.39 402.60L147.79 405.90L145.39 409.20L142.99 405.90Z" fill="#ff0000"/>
<path d="M153.40 401.10L155.80 404.40L153.40 407.70L151.00 404.40Z" fill="#ff0000"/>
<path d="M161.42 397.20L163.82 400.50L161.42 403.80L159.02 400.50Z" fill="#ff0000"/>
<path d="M169.43 393.40L171.83 396.70L169.43 400.00L167.03 396.70Z" fill="#ff0000"/>
<path d="M177.45 391.70L179.85 395.00L177.45 398.30L175.05 395.00Z" fill="#ff0000"/>
<path d="M185.46 392.00L187.86 395.30L185.46 398.60L183.06 395.30Z" fill="#ff0000"/>
<path d="M193.48 390.50L195.88 393.80L193.48 397.10L191.08 393.80Z" fill="#ff0000"/>
<path d="M201.49 385.60L203.89 388.90L201.49 392.20L199.09 388.90Z" fill="#ff0000"/>
<path d="M209.51 388.80L211.91 392.10L209.51 395.40L207.11 392.10Z" fill="#ff0000"/>
<path d="M217.52 383.10L219.92 386.40L217.52 389.70L215.12 386.40Z" fill="#ff0000"/>
<path d="M225.54 383.10L227.94 386.40L225.54 389.70L223.14 386.40Z" fill="#ff0000"/>
<path d="M233.55 382.40L235.95 385.70L233.55 389.00L231.15 385.70Z" fill="#ff0000"/>
<path d="M241.57 379.30L243.97 382.60L241.57 385.90L239.17 382.60Z" fill="#ff0000"/>
<path d="M249.58 376.60L251.98 379.90L249.58 383.20L247.18 379.90Z" fill="#ff0000"/>
<path d="M257.60 376.60L260.00 379.90L257.60 383.20L255.20 379.90Z" fill="#ff0000"/>
<path d="M265.61 380.20L268.01 383.50L265.61 386.80L263.21 383.50Z" fill="#ff0000"/>
<path d="M277.63 375.20L280.03 378.50L277.63 381.80L275.24 378.50Z" fill="#ff0000"/>
<path d="M293.67 377.50L296.06 380.80L293.67 384.10L291.27 380.80Z" fill="#ff0000"/>
<path d="M309.69 373.60L312.09 376.90L309.69 380.20L307.30 376.90Z" fill="#ff0000"/>
<path d="M325.73 380.50L328.12 383.80L325.73 387.10L323.33 383.80Z" fill="#ff0000"/>
<path d="M357.79 366.80L360.19 370.10L357.79 373.40L355.39 370.10Z" fill="#ff0000"/>
</g>
<rect x="74.00" y="59.70" width="5.6" height="5.6" fill="#000"/>
<text x="93.9" y="64.9" font-size="9.4" text-anchor="start" fill="#000" font-family="Liberation Sans, sans-serif" >ATLAS</text>
<path d="M64.00 75.20L73.60 75.20" fill="none" stroke="#ad5c16" stroke-width="1.2" stroke-dasharray="2.2,1.6"/>
<path d="M89.00 75.20L79.60 75.20" fill="none" stroke="#ad5c16" stroke-width="1.2" stroke-dasharray="2.2,1.6"/>
<circle cx="76.60" cy="75.20" r="2.65" fill="none" stroke="#ad5c16" stroke-width="1.05"/>
<text x="93.9" y="77.9" font-size="9.4" text-anchor="start" fill="#000" font-family="Liberation Sans, sans-serif" >Herwig++ 2.5.0 default</text>
<path d="M64.00 88.20L73.60 88.20" fill="none" stroke="#44a832" stroke-width="1.2" stroke-dasharray="2.2,1.6"/>
<path d="M89.00 88.20L79.60 88.20" fill="none" stroke="#44a832" stroke-width="1.2" stroke-dasharray="2.2,1.6"/>
<rect x="73.85" y="85.60" width="5.5" height="5.2" fill="none" stroke="#44a832" stroke-width="1.15"/>
<text x="93.9" y="90.8" font-size="9.4" text-anchor="start" fill="#000" font-family="Liberation Sans, sans-serif" >Herwig 7.2.1 default</text>
<path d="M64.00 101.30L89.00 101.30" fill="none" stroke="#0000ff" stroke-width="1.2"/>
<path d="M73.90 103.90L79.30 103.90L76.60 98.40Z" fill="#0000ff"/>
<text x="93.9" y="103.8" font-size="9.4" text-anchor="start" fill="#000" font-family="Liberation Sans, sans-serif" >Pythia 8.308 default</text>
<path d="M64.00 114.30L76.60 114.30" fill="none" stroke="#ff0000" stroke-width="1.0"/>
<path d="M76.60 114.30L89.00 114.30" fill="none" stroke="#ff0000" stroke-width="1.2" stroke-dasharray="1.1,1.6"/>
<path d="M76.60 111.00L79.00 114.30L76.60 117.60L74.20 114.30Z" fill="#ff0000"/>
<text x="93.9" y="116.6" font-size="9.4" text-anchor="start" fill="#000" font-family="Liberation Sans, sans-serif" >Sherpa 2.2.9 default</text>
</svg></body></html>
